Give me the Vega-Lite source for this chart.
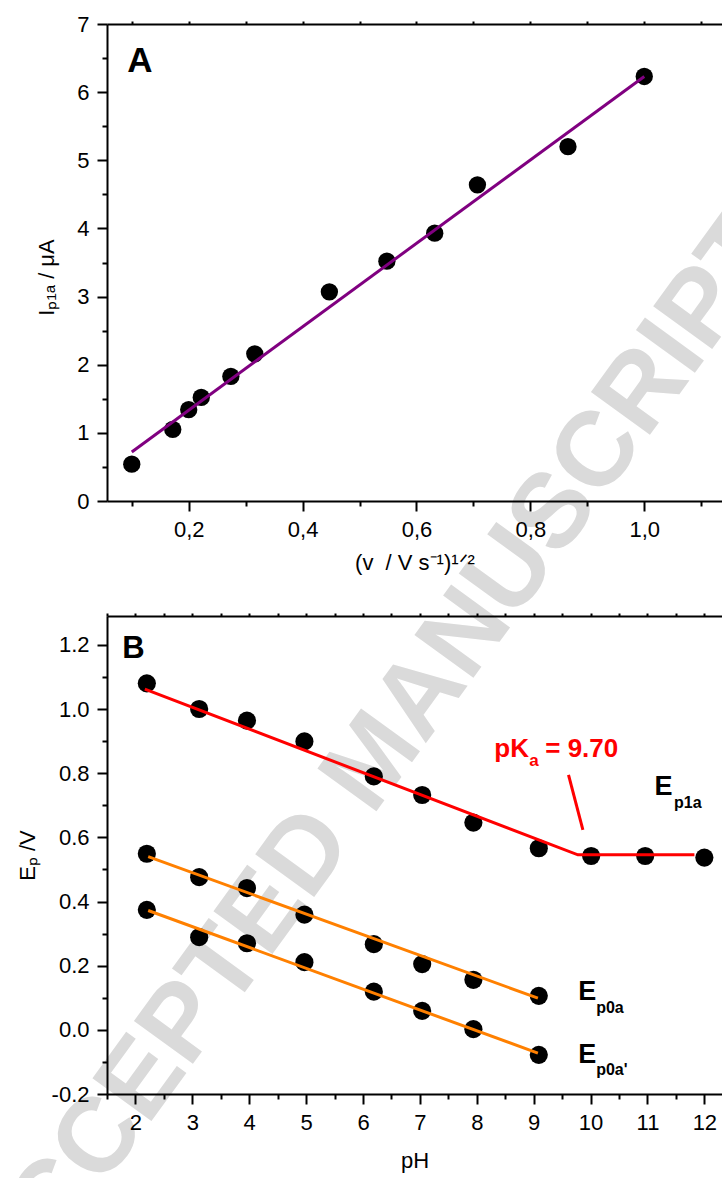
{
  "$schema": "https://vega.github.io/schema/vega-lite/v6.json",
  "autosize": {"type": "none"},
  "padding": {"left": 107, "top": 24, "right": 615, "bottom": 1154},
  "bounds": "flush",
  "spacing": 115,
  "config": {
    "font": "Liberation Sans",
    "view": {"stroke": null},
    "axis": {
      "grid": false,
      "domainColor": "black",
      "domainWidth": 2,
      "tickColor": "black",
      "tickWidth": 2,
      "labelColor": "black",
      "labelFont": "Liberation Sans",
      "labelFontSize": 22,
      "labelFlush": false,
      "labelOverlap": false,
      "titleFont": "Liberation Sans",
      "titleFontSize": 22,
      "titleFontWeight": "normal",
      "titleColor": "black"
    }
  },
  "datasets": {
    "wm": [{"t": "ACCEPTED MANUSCRIPT", "x": 0.5254, "y": -3.801}],
    "ptsA": [
      {"v": 0.1, "I": 0.54}, {"v": 0.172, "I": 1.05}, {"v": 0.2, "I": 1.34},
      {"v": 0.222, "I": 1.52}, {"v": 0.274, "I": 1.83}, {"v": 0.316, "I": 2.16},
      {"v": 0.447, "I": 3.07}, {"v": 0.548, "I": 3.52}, {"v": 0.632, "I": 3.93},
      {"v": 0.707, "I": 4.64}, {"v": 0.866, "I": 5.2}, {"v": 1.0, "I": 6.23}
    ],
    "fitA": [{"v": 0.1, "I": 0.72}, {"v": 1.0, "I": 6.23}],
    "labA": [{"t": "A", "v": 0.0922, "I": 6.3}],
    "ptsB": [
      {"s": "Ep1a", "pH": 2.2, "E": 1.08}, {"s": "Ep1a", "pH": 3.12, "E": 1.0},
      {"s": "Ep1a", "pH": 3.96, "E": 0.964}, {"s": "Ep1a", "pH": 4.97, "E": 0.899},
      {"s": "Ep1a", "pH": 6.19, "E": 0.79}, {"s": "Ep1a", "pH": 7.04, "E": 0.732},
      {"s": "Ep1a", "pH": 7.94, "E": 0.646}, {"s": "Ep1a", "pH": 9.09, "E": 0.566},
      {"s": "Ep1a", "pH": 10.01, "E": 0.542}, {"s": "Ep1a", "pH": 10.96, "E": 0.542},
      {"s": "Ep1a", "pH": 12.0, "E": 0.537},
      {"s": "Ep0a", "pH": 2.2, "E": 0.549}, {"s": "Ep0a", "pH": 3.12, "E": 0.476},
      {"s": "Ep0a", "pH": 3.96, "E": 0.442}, {"s": "Ep0a", "pH": 4.97, "E": 0.359},
      {"s": "Ep0a", "pH": 6.19, "E": 0.267}, {"s": "Ep0a", "pH": 7.04, "E": 0.205},
      {"s": "Ep0a", "pH": 7.94, "E": 0.156}, {"s": "Ep0a", "pH": 9.09, "E": 0.106},
      {"s": "Ep0a'", "pH": 2.2, "E": 0.374}, {"s": "Ep0a'", "pH": 3.12, "E": 0.289},
      {"s": "Ep0a'", "pH": 3.96, "E": 0.27}, {"s": "Ep0a'", "pH": 4.97, "E": 0.211},
      {"s": "Ep0a'", "pH": 6.19, "E": 0.119}, {"s": "Ep0a'", "pH": 7.04, "E": 0.059},
      {"s": "Ep0a'", "pH": 7.94, "E": 0.002}, {"s": "Ep0a'", "pH": 9.09, "E": -0.078}
    ],
    "fitRed": [
      {"seg": "fit", "pH": 2.165, "E": 1.062}, {"seg": "fit", "pH": 9.777, "E": 0.5455},
      {"seg": "fit", "pH": 11.825, "E": 0.5455},
      {"seg": "lead", "pH": 9.612, "E": 0.795}, {"seg": "lead", "pH": 9.865, "E": 0.623}
    ],
    "fitOrange": [
      {"seg": "Ep0a", "pH": 2.224, "E": 0.54}, {"seg": "Ep0a", "pH": 9.074, "E": 0.0988},
      {"seg": "Ep0a'", "pH": 2.224, "E": 0.372}, {"seg": "Ep0a'", "pH": 9.074, "E": -0.0727}
    ],
    "labB": [{"t": "B", "pH": 1.767, "E": 1.1587}],
    "redBig": [{"t": "pK", "pH": 8.307, "E": 0.852}, {"t": "= 9.70", "pH": 9.203, "E": 0.852}],
    "redSmall": [{"t": "a", "pH": 8.921, "E": 0.821}],
    "blackBig": [{"t": "E", "pH": 11.122, "E": 0.7325}, {"t": "E", "pH": 9.782, "E": 0.0935}, {"t": "E", "pH": 9.782, "E": -0.1038}],
    "blackSmall": [{"t": "p1a", "pH": 11.468, "E": 0.692}, {"t": "p0a", "pH": 10.098, "E": 0.054}, {"t": "p0a'", "pH": 10.098, "E": -0.14}]
  },
  "vconcat": [
    {
      "width": 615,
      "height": 477,
      "resolve": {"axis": {"x": "independent", "y": "independent"}},
      "layer": [
        {
          "data": {"name": "wm"},
          "mark": {"type": "text", "font": "Liberation Sans", "fontWeight": "bold", "fontSize": 106, "angle": 306, "align": "center", "baseline": "middle", "color": "#dadada"},
          "encoding": {
            "x": {"field": "x", "type": "quantitative", "scale": {"domain": [0.0565, 1.1365], "nice": false, "zero": false}, "axis": null},
            "y": {"field": "y", "type": "quantitative", "scale": {"domain": [0, 7], "nice": false, "zero": false}, "axis": null},
            "text": {"field": "t"}
          }
        },
        {
          "data": {"name": "ptsA"},
          "mark": {"type": "circle", "size": 300, "color": "black", "opacity": 1},
          "encoding": {
            "x": {"field": "v", "type": "quantitative", "scale": {"domain": [0.0565, 1.1365], "nice": false, "zero": false},
                  "axis": {"zindex": 2, "orient": "bottom", "values": [0.2, 0.4, 0.6, 0.8, 1.0], "tickSize": 10, "labelPadding": 8,
                           "labelExpr": "replace(format(datum.value, '.1f'), '.', ',')", "title": "(v\u00a0\u00a0/ V s⁻¹)¹ᐟ²", "titlePadding": 12}},
            "y": {"field": "I", "type": "quantitative", "scale": {"domain": [0, 7], "nice": false, "zero": false},
                  "axis": {"zindex": 2, "orient": "left", "values": [0, 1, 2, 3, 4, 5, 6, 7], "tickSize": 10, "labelPadding": 8, "format": "d",
                           "title": "Iₚ₁ₐ / μA", "titlePadding": 18, "titleY": 253}}
          }
        },
        {
          "data": {"name": "fitA"},
          "mark": {"type": "line", "color": "#800080", "strokeWidth": 3},
          "encoding": {
            "x": {"field": "v", "type": "quantitative", "scale": {"domain": [0.0565, 1.1365], "nice": false, "zero": false},
                  "axis": {"zindex": 2, "orient": "bottom", "values": [0.1, 0.3, 0.5, 0.7, 0.9, 1.1], "tickSize": 5, "labels": false, "domain": false, "title": null}},
            "y": {"field": "I", "type": "quantitative", "scale": {"domain": [0, 7], "nice": false, "zero": false},
                  "axis": {"zindex": 2, "orient": "left", "values": [0.5, 1.5, 2.5, 3.5, 4.5, 5.5, 6.5], "tickSize": 5, "labels": false, "domain": false, "title": null}}
          }
        },
        {
          "data": {"name": "labA"},
          "mark": {"type": "text", "font": "Liberation Sans", "fontWeight": "bold", "fontSize": 35, "align": "left", "baseline": "alphabetic", "color": "black"},
          "encoding": {
            "x": {"field": "v", "type": "quantitative", "scale": {"domain": [0.0565, 1.1365], "nice": false, "zero": false},
                  "axis": {"zindex": 2, "orient": "top", "values": [0.1, 0.2, 0.3, 0.4, 0.5, 0.6, 0.7, 0.8, 0.9, 1.0, 1.1], "tickSize": 3, "labels": false, "title": null}},
            "y": {"field": "I", "type": "quantitative", "scale": {"domain": [0, 7], "nice": false, "zero": false}, "axis": null},
            "text": {"field": "t"}
          }
        }
      ]
    },
    {
      "width": 615,
      "height": 478,
      "resolve": {"axis": {"x": "independent", "y": "independent"}},
      "layer": [
        {
          "data": {"name": "ptsB"},
          "mark": {"type": "circle", "size": 330, "color": "black", "opacity": 1},
          "encoding": {
            "x": {"field": "pH", "type": "quantitative", "scale": {"domain": [1.5, 12.31], "nice": false, "zero": false},
                  "axis": {"zindex": 2, "orient": "bottom", "values": [2, 3, 4, 5, 6, 7, 8, 9, 10, 11, 12], "tickSize": 10, "labelPadding": 8, "format": "d",
                           "title": "pH", "titlePadding": 17}},
            "y": {"field": "E", "type": "quantitative", "scale": {"domain": [-0.2, 1.29], "nice": false, "zero": false},
                  "axis": {"zindex": 2, "orient": "left", "values": [-0.2, 0, 0.2, 0.4, 0.6, 0.8, 1.0, 1.2], "tickSize": 10, "labelPadding": 8,
                           "labelExpr": "datum.value < 0 ? '-' + format(-datum.value, '.1f') : format(datum.value, '.1f')",
                           "title": "Eₚ /V", "titlePadding": 12}}
          }
        },
        {
          "data": {"name": "fitOrange"},
          "mark": {"type": "line", "color": "#ff8000", "strokeWidth": 3},
          "encoding": {
            "x": {"field": "pH", "type": "quantitative", "scale": {"domain": [1.5, 12.31], "nice": false, "zero": false},
                  "axis": {"zindex": 2, "orient": "bottom", "values": [1.5, 2.5, 3.5, 4.5, 5.5, 6.5, 7.5, 8.5, 9.5, 10.5, 11.5], "tickSize": 5, "labels": false, "domain": false, "title": null}},
            "y": {"field": "E", "type": "quantitative", "scale": {"domain": [-0.2, 1.29], "nice": false, "zero": false},
                  "axis": {"zindex": 2, "orient": "left", "values": [-0.1, 0.1, 0.3, 0.5, 0.7, 0.9, 1.1], "tickSize": 5, "labels": false, "domain": false, "title": null}},
            "detail": {"field": "seg"}
          }
        },
        {
          "data": {"name": "fitRed"},
          "mark": {"type": "line", "color": "#ff0000", "strokeWidth": 3},
          "encoding": {
            "x": {"field": "pH", "type": "quantitative", "scale": {"domain": [1.5, 12.31], "nice": false, "zero": false}, "axis": null},
            "y": {"field": "E", "type": "quantitative", "scale": {"domain": [-0.2, 1.29], "nice": false, "zero": false}, "axis": null},
            "detail": {"field": "seg"}
          }
        },
        {
          "data": {"name": "labB"},
          "mark": {"type": "text", "font": "Liberation Sans", "fontWeight": "bold", "fontSize": 31, "align": "left", "baseline": "alphabetic", "color": "black"},
          "encoding": {
            "x": {"field": "pH", "type": "quantitative", "scale": {"domain": [1.5, 12.31], "nice": false, "zero": false},
                  "axis": {"zindex": 2, "orient": "top", "values": [1.5, 2, 2.5, 3, 3.5, 4, 4.5, 5, 5.5, 6, 6.5, 7, 7.5, 8, 8.5, 9, 9.5, 10, 10.5, 11, 11.5, 12], "tickSize": 3, "labels": false, "title": null}},
            "y": {"field": "E", "type": "quantitative", "scale": {"domain": [-0.2, 1.29], "nice": false, "zero": false}, "axis": null},
            "text": {"field": "t"}
          }
        },
        {
          "data": {"name": "redBig"},
          "mark": {"type": "text", "font": "Liberation Sans", "fontWeight": "bold", "fontSize": 26, "align": "left", "baseline": "alphabetic", "color": "#ff0000"},
          "encoding": {
            "x": {"field": "pH", "type": "quantitative", "scale": {"domain": [1.5, 12.31], "nice": false, "zero": false}, "axis": null},
            "y": {"field": "E", "type": "quantitative", "scale": {"domain": [-0.2, 1.29], "nice": false, "zero": false}, "axis": null},
            "text": {"field": "t"}
          }
        },
        {
          "data": {"name": "redSmall"},
          "mark": {"type": "text", "font": "Liberation Sans", "fontWeight": "bold", "fontSize": 17, "align": "left", "baseline": "alphabetic", "color": "#ff0000"},
          "encoding": {
            "x": {"field": "pH", "type": "quantitative", "scale": {"domain": [1.5, 12.31], "nice": false, "zero": false}, "axis": null},
            "y": {"field": "E", "type": "quantitative", "scale": {"domain": [-0.2, 1.29], "nice": false, "zero": false}, "axis": null},
            "text": {"field": "t"}
          }
        },
        {
          "data": {"name": "blackBig"},
          "mark": {"type": "text", "font": "Liberation Sans", "fontWeight": "bold", "fontSize": 27, "align": "left", "baseline": "alphabetic", "color": "black"},
          "encoding": {
            "x": {"field": "pH", "type": "quantitative", "scale": {"domain": [1.5, 12.31], "nice": false, "zero": false}, "axis": null},
            "y": {"field": "E", "type": "quantitative", "scale": {"domain": [-0.2, 1.29], "nice": false, "zero": false}, "axis": null},
            "text": {"field": "t"}
          }
        },
        {
          "data": {"name": "blackSmall"},
          "mark": {"type": "text", "font": "Liberation Sans", "fontWeight": "bold", "fontSize": 16, "align": "left", "baseline": "alphabetic", "color": "black"},
          "encoding": {
            "x": {"field": "pH", "type": "quantitative", "scale": {"domain": [1.5, 12.31], "nice": false, "zero": false}, "axis": null},
            "y": {"field": "E", "type": "quantitative", "scale": {"domain": [-0.2, 1.29], "nice": false, "zero": false}, "axis": null},
            "text": {"field": "t"}
          }
        }
      ]
    }
  ]
}
